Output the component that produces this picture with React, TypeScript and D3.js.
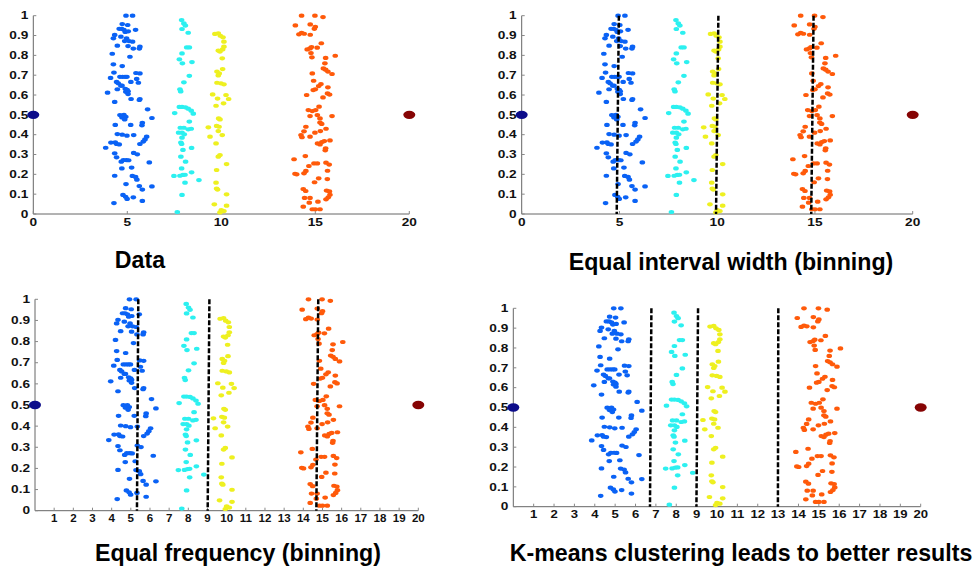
import React from "react";
import * as d3 from "d3";

// points: [x, y]
const bluePoints: [number, number][] = [
  [4.93, 1.0], [5.28, 1.0], [4.73, 0.958], [5.02, 0.953], [4.57, 0.934], [4.7, 0.934],
  [4.82, 0.929], [5.44, 0.929], [4.89, 0.918], [5.05, 0.921], [4.33, 0.903], [4.26, 0.886],
  [4.66, 0.894], [4.96, 0.886], [5.09, 0.872], [4.86, 0.872], [5.28, 0.869], [4.47, 0.849],
  [5.04, 0.847], [5.32, 0.834], [5.67, 0.844], [5.64, 0.834], [4.2, 0.808], [5.14, 0.793],
  [4.26, 0.755], [4.73, 0.746], [4.29, 0.713], [4.11, 0.686], [4.61, 0.692], [4.75, 0.692],
  [4.88, 0.692], [4.98, 0.692], [5.46, 0.711], [5.67, 0.709], [4.43, 0.666], [4.52, 0.659],
  [4.66, 0.647], [4.72, 0.647], [5.5, 0.681], [5.59, 0.662], [5.19, 0.666], [4.47, 0.629],
  [4.89, 0.631], [4.99, 0.626], [4.92, 0.616], [5.04, 0.619], [3.95, 0.612], [5.04, 0.605],
  [5.2, 0.58], [5.67, 0.58], [5.64, 0.575], [4.33, 0.565], [6.08, 0.528], [6.31, 0.484],
  [4.61, 0.499], [4.82, 0.5], [4.92, 0.49], [4.72, 0.487], [4.86, 0.477], [4.36, 0.449],
  [5.18, 0.449], [5.78, 0.447], [5.8, 0.46], [4.47, 0.403], [4.73, 0.4], [4.98, 0.395],
  [5.34, 0.398], [6.03, 0.39], [5.94, 0.376], [3.85, 0.334], [4.13, 0.36], [4.36, 0.361],
  [4.43, 0.353], [4.57, 0.351], [5.67, 0.353], [5.85, 0.365], [4.33, 0.306], [4.43, 0.286],
  [5.34, 0.308], [5.53, 0.301], [4.68, 0.264], [4.79, 0.272], [4.95, 0.272], [5.07, 0.271],
  [6.17, 0.26], [4.71, 0.23], [5.23, 0.234], [4.33, 0.193], [5.27, 0.192], [5.44, 0.187],
  [5.51, 0.173], [4.93, 0.151], [5.64, 0.141], [5.8, 0.123], [6.31, 0.139], [4.77, 0.096],
  [4.91, 0.087], [4.99, 0.076], [5.32, 0.084], [5.8, 0.066], [4.29, 0.055],
];

const cyanPoints: [number, number][] = [
  [7.89, 0.978], [8.01, 0.961], [8.09, 0.95], [7.91, 0.933], [8.24, 0.914], [8.16, 0.84],
  [8.3, 0.84], [7.91, 0.81], [7.77, 0.78], [7.93, 0.76], [8.44, 0.766], [8.3, 0.697],
  [8.01, 0.664], [7.8, 0.629], [7.84, 0.618], [7.52, 0.509], [7.77, 0.54], [7.91, 0.54],
  [8.09, 0.538], [8.24, 0.531], [8.4, 0.521], [8.51, 0.506], [8.3, 0.466], [7.82, 0.435],
  [8.01, 0.435], [7.73, 0.41], [7.91, 0.41], [8.03, 0.402], [8.24, 0.427], [8.4, 0.43],
  [7.91, 0.385], [7.85, 0.36], [7.89, 0.353], [7.96, 0.323], [8.42, 0.333], [7.85, 0.289],
  [8.1, 0.264], [7.89, 0.23], [7.48, 0.192], [7.8, 0.193], [7.96, 0.197], [8.07, 0.198],
  [8.42, 0.21], [8.81, 0.171], [8.07, 0.158], [7.91, 0.096], [7.66, 0.01],
];

const yellowPoints: [number, number][] = [
  [9.66, 0.908], [9.84, 0.911], [9.95, 0.899], [10.09, 0.891], [10.14, 0.869], [10.14, 0.844],
  [10.07, 0.83], [9.84, 0.824], [9.93, 0.819], [10.05, 0.785], [10.07, 0.731], [9.77, 0.718],
  [9.89, 0.709], [9.84, 0.699], [9.77, 0.662], [9.98, 0.659], [10.14, 0.654], [9.54, 0.603],
  [10.25, 0.6], [10.39, 0.58], [9.8, 0.582], [10.12, 0.558], [9.72, 0.546], [9.86, 0.482],
  [9.93, 0.477], [9.75, 0.444], [9.88, 0.44], [9.31, 0.437], [9.84, 0.418], [9.4, 0.39],
  [10.05, 0.398], [9.72, 0.356], [9.93, 0.297], [9.84, 0.289], [10.28, 0.252], [9.75, 0.222],
  [9.72, 0.158], [9.75, 0.128], [9.8, 0.123], [10.28, 0.099], [9.63, 0.049], [10.28, 0.042],
  [10.0, 0.02], [10.14, 0.015], [9.93, 0.008],
];

const orangePoints: [number, number][] = [
  [14.27, 1.0], [14.98, 1.0], [15.41, 0.993], [13.94, 0.951], [14.73, 0.956], [14.95, 0.934],
  [15.0, 0.944], [14.13, 0.906], [14.27, 0.913], [14.41, 0.909], [14.73, 0.904], [15.32, 0.861],
  [14.57, 0.83], [14.72, 0.835], [14.8, 0.842], [15.1, 0.839], [14.77, 0.812], [14.82, 0.79],
  [16.06, 0.798], [15.55, 0.787], [15.51, 0.76], [15.43, 0.734], [15.55, 0.728], [15.67, 0.718],
  [15.89, 0.706], [14.84, 0.709], [14.91, 0.672], [15.3, 0.655], [15.18, 0.645], [15.0, 0.629],
  [14.89, 0.625], [15.67, 0.639], [14.54, 0.6], [15.65, 0.608], [15.76, 0.602], [15.41, 0.588],
  [15.2, 0.541], [14.63, 0.524], [14.84, 0.519], [15.02, 0.524], [14.72, 0.494], [15.11, 0.499],
  [15.25, 0.482], [15.25, 0.461], [15.34, 0.454], [15.89, 0.494], [14.5, 0.44], [14.4, 0.417],
  [14.24, 0.398], [14.29, 0.387], [14.72, 0.39], [14.98, 0.41], [15.27, 0.418], [15.57, 0.43],
  [15.12, 0.356], [15.25, 0.351], [15.35, 0.363], [15.48, 0.368], [15.78, 0.371], [15.55, 0.331],
  [15.53, 0.321], [13.87, 0.276], [14.47, 0.292], [14.66, 0.242], [14.93, 0.255], [15.11, 0.255],
  [15.57, 0.259], [15.74, 0.249], [14.5, 0.217], [14.4, 0.205], [13.92, 0.203], [14.01, 0.2],
  [15.65, 0.218], [15.18, 0.18], [14.96, 0.16], [15.64, 0.176], [14.36, 0.126], [14.49, 0.116],
  [15.6, 0.118], [15.75, 0.114], [15.78, 0.097], [15.57, 0.074], [15.69, 0.084], [14.43, 0.081],
  [14.72, 0.081], [14.68, 0.057], [15.14, 0.062], [14.36, 0.037], [14.84, 0.024], [15.0, 0.024],
  [15.25, 0.024],
];

const endPoints: [number, number][] = [[0, 0.5], [20, 0.5]];

// dashed split lines: [x at top, x at bottom]
const intervalSplits: [number, number][] = [[4.97, 4.86], [10.06, 9.94], [14.93, 14.81]];
const frequencySplits: [number, number][] = [[5.39, 5.32], [9.1, 9.01], [14.78, 14.68]];
const kmeansSplits: [number, number][] = [[6.78, 6.71], [9.07, 8.99], [13.01, 12.99]];

const yTicks = [0, 0.1, 0.2, 0.3, 0.4, 0.5, 0.6, 0.7, 0.8, 0.9, 1];
const coarseTicks = [0, 5, 10, 15, 20];
const fineTicks = d3.range(1, 21);

const clusterColors = ["#0a62f5", "#2cf0f0", "#eef020", "#ff5a0a"];
const endColors = ["#0c0c8a", "#860404"];

const panels = [
  { title: "Data", splits: [] as [number, number][], xTicks: coarseTicks, box: [33.3, 409.3, 15.7, 214], sx: 1.3, title_x: 140, title_y: 268 },
  { title: "Equal interval width (binning)", splits: intervalSplits, xTicks: coarseTicks, box: [521.7, 912.7, 15.7, 214], sx: 1.3, title_x: 731, title_y: 270 },
  { title: "Equal frequency (binning)", splits: frequencySplits, xTicks: fineTicks, box: [35, 418.3, 299.3, 510.7], sx: 1.1, title_x: 238, title_y: 561 },
  { title: "K-means clustering leads to better results", splits: kmeansSplits, xTicks: fineTicks, box: [513.3, 920.7, 308.3, 506.7], sx: 1.25, title_x: 741, title_y: 561 },
];

const fmt = (v: number) => (v === 0 || v === 1 ? String(v) : v.toFixed(1));

function Panel({ p }: { p: typeof panels[number] }) {
  const [left, right, top, bottom] = p.box;
  const x = d3.scaleLinear().domain([0, 20]).range([left, right]);
  const y = d3.scaleLinear().domain([0, 1]).range([bottom, top]);
  const clusters = [bluePoints, cyanPoints, yellowPoints, orangePoints];
  const labelStyle = { fontFamily: "Liberation Sans, Arial, sans-serif", fontWeight: 700, fontSize: 10.5, fill: "#111" };

  return (
    <g>
      {/* axes */}
      <line x1={left} x2={right} y1={bottom} y2={bottom} stroke="#666" strokeWidth={1} />
      <line x1={left} x2={left} y1={top} y2={bottom} stroke="#666" strokeWidth={1} />
      {yTicks.map((t) => (
        <g key={"y" + t}>
          <line x1={left} x2={left + 3} y1={y(t)} y2={y(t)} stroke="#888" />
          <text
            transform={`translate(${left - 5},${y(t) + 3.7}) scale(1.3,1)`}
            textAnchor="end"
            style={labelStyle}
          >
            {fmt(t)}
          </text>
        </g>
      ))}
      {p.xTicks.map((t) => (
        <g key={"x" + t}>
          <line x1={x(t)} x2={x(t)} y1={bottom} y2={bottom - 3} stroke="#888" />
          <text
            transform={`translate(${x(t)},${bottom + 11.5}) scale(${p.sx},1)`}
            textAnchor="middle"
            style={labelStyle}
          >
            {t}
          </text>
        </g>
      ))}

      {clusters.map((pts, ci) =>
        pts.map((d, i) => (
          <ellipse key={ci + "-" + i} cx={x(d[0])} cy={y(d[1])} rx={2.8} ry={2.1} fill={clusterColors[ci]} />
        ))
      )}
      {endPoints.map((d, i) => (
        <ellipse key={"e" + i} cx={x(d[0])} cy={y(d[1])} rx={6} ry={4.2} fill={endColors[i]} />
      ))}

      {p.splits.map((s, i) => (
        <line
          key={"s" + i}
          x1={x(s[0])}
          x2={x(s[1])}
          y1={y(1)}
          y2={y(0)}
          stroke="#000"
          strokeWidth={2.5}
          strokeDasharray="5,2"
        />
      ))}

      <text
        x={p.title_x}
        y={p.title_y}
        textAnchor="middle"
        style={{ fontFamily: "Liberation Sans, Arial, sans-serif", fontWeight: 700, fontSize: 23.2, fill: "#000" }}
      >
        {p.title}
      </text>
    </g>
  );
}

export default function App() {
  return (
    <svg width={979} height={568} style={{ position: "absolute", left: 0, top: 0, background: "#fff" }}>
      <rect width={979} height={568} fill="#fff" />
      {panels.map((p) => (
        <Panel key={p.title} p={p} />
      ))}
    </svg>
  );
}
